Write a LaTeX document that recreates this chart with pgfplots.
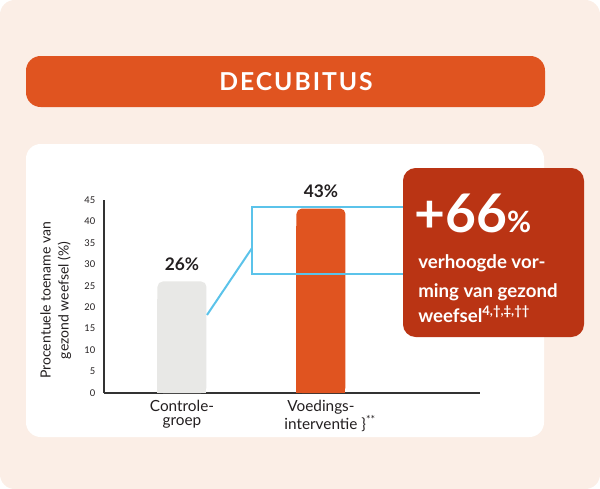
\documentclass[border=0pt]{standalone}
\usepackage{fontspec}
\setmainfont{Lato}
\newfontfamily\spacedfont[LetterSpace=8]{Lato}
\usepackage{pgfplots}
\pgfplotsset{compat=1.18}

\definecolor{peach}{HTML}{FBEEE6}
\definecolor{banner}{HTML}{E05420}
\definecolor{boxred}{HTML}{BA3414}
\definecolor{bargray}{HTML}{E8E8E6}
\definecolor{lineblue}{HTML}{5BC3EA}
\definecolor{axisdark}{HTML}{333333}
\definecolor{textdark}{HTML}{231F20}

\begin{document}
\begin{tikzpicture}
% background, banner and white panel in pixel units (y down)
\begin{scope}[x=0.75pt, y=-0.75pt]
  \useasboundingbox (0,0) rectangle (600,489);
  \fill[peach, rounded corners=11pt] (0,0) rectangle (600,489);
  \fill[banner, rounded corners=11pt] (26,56) rectangle (545,107);
  \node[text=white, anchor=base, inner sep=0,
        font=\spacedfont\bfseries\fontsize{18.5}{20}\selectfont] at (296,90) {DECUBITUS};
  \fill[white, rounded corners=11pt] (26,144) rectangle (544,437);
\end{scope}

\begin{axis}[
  at={(78pt,-294.75pt)}, anchor=south west,
  scale only axis, width=282pt, height=144.75pt,
  xmin=-0.561, xmax=2.144, ymin=0, ymax=45,
  axis x line=bottom, axis y line=left,
  axis line style={-, line width=1.5pt, draw=axisdark},
  clip=false,
  xtick={0,1},
  xticklabels={{Controle-\\groep},{Voedings-\\interventie\rlap{\ \}\textsuperscript{**}}}},
  ytick={0,5,...,45},
  major tick length=0pt,
  /pgf/number format/assume math mode=true,
  yticklabel style={font=\fontsize{7}{8}\selectfont, text=textdark, xshift=-3pt},
  xticklabel style={font=\fontsize{11.5}{10.5}\selectfont, align=center, text=textdark, yshift=-2pt},
  ylabel={Procentuele toename van\\gezond weefsel (\%)},
  ylabel style={at={(axis description cs:-0.128,0.48)}, anchor=center, align=center,
                font=\fontsize{10.5}{13.5}\selectfont, text=textdark},
  ybar, bar width=36.75pt, bar shift=0pt,
  barlabel/.style={
    nodes near coords={\pgfmathprintnumber{\pgfplotspointmeta}\%},
    every node near coord/.append style={anchor=base, yshift=8pt,
      font=\bfseries\fontsize{13}{13}\selectfont, text=textdark}},
]
% square lower part under each rounded bar, so only the top corners are round
\addplot[fill=bargray, draw=none, forget plot, y filter/.expression={y-4}] coordinates {(0,26)};
\addplot[fill=banner, draw=none, forget plot, y filter/.expression={y-4}] coordinates {(1,43)};
\addplot[fill=bargray, draw=none, rounded corners=4pt, barlabel] coordinates {(0,26)};
\addplot[fill=banner, draw=none, rounded corners=4pt, barlabel] coordinates {(1,43)};

\draw[lineblue, line width=1.5pt] (axis cs:0.18,18.2) -- (axis cs:0.504,33.8);
\draw[lineblue, line width=1.5pt] (axis cs:0.504,27.7) rectangle (axis cs:1.75,43.4);
\end{axis}

% callout box
\begin{scope}[x=0.75pt, y=-0.75pt]
  \fill[boxred, rounded corners=9.5pt] (403,168) rectangle (584,337);
  \node[anchor=base west, inner sep=0, text=white,
        font=\bfseries\fontsize{40}{40}\selectfont] at (414,232)
        {+66{\fontsize{22}{22}\selectfont\%}};
  \node[anchor=base west, inner sep=0, text=white,
        font=\bfseries\fontsize{14}{16}\selectfont] at (418,268) {verhoogde vor-};
  \node[anchor=base west, inner sep=0, text=white,
        font=\bfseries\fontsize{14}{16}\selectfont] at (418,297) {ming van gezond};
  \node[anchor=base west, inner sep=0, text=white,
        font=\bfseries\fontsize{14}{16}\selectfont] at (418,322)
        {weefsel\textsuperscript{4,\textdagger,\textdaggerdbl,\textdagger\textdagger}};
\end{scope}
\end{tikzpicture}
\end{document}
